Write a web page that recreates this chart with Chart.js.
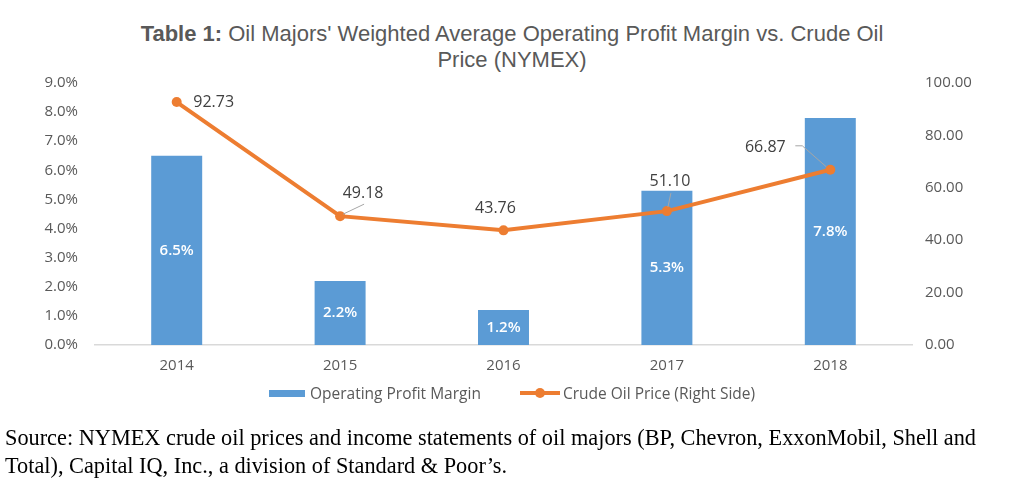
<!DOCTYPE html>
<html>
<head>
<meta charset="utf-8">
<script src="https://cdn.jsdelivr.net/npm/chart.js@4.4.1/dist/chart.umd.min.js"></script>
<style>
body { margin: 0; width: 1024px; height: 480px; position: relative; background: #fff; overflow: hidden; }
#chart { position: absolute; left: 0; top: 0; }
#title { position: absolute; top: 21px; left: 0; width: 1024px; text-align: center;
  font: 22px "Liberation Sans", Arial, sans-serif; color: #595959; line-height: 26px; }
#legend { position: absolute; top: 383px; left: 0; width: 1024px; display: flex; justify-content: center;
  font: 15.5px "Open Sans", sans-serif; color: #595959; line-height: 20px; }
#legend .item { display: flex; align-items: center; }
#legend .bar { width: 36px; height: 7px; background: #5B9BD5; margin-right: 5px; }
#legend .line { width: 40px; height: 4px; background: #ED7D31; margin: 0 3px 0 39px; position: relative; }
#legend .line:after { content: ""; position: absolute; left: 15px; top: -3px; width: 10px; height: 10px; border-radius: 5px; background: #ED7D31; }
#source { position: absolute; left: 5px; top: 424px; font: 22.3px "Liberation Serif", "Times New Roman", serif; color: #000; line-height: 28px; }
</style>
</head>
<body>
<div id="title"><b>Table 1:</b> Oil Majors' Weighted Average Operating Profit Margin vs. Crude Oil<br>Price (NYMEX)</div>
<canvas id="chart" width="1024" height="480"></canvas>
<div id="legend">
  <div class="item"><span class="bar"></span>Operating Profit Margin</div>
  <div class="item"><span class="line"></span>Crude Oil Price (Right Side)</div>
</div>
<div id="source">Source: NYMEX crude oil prices and income statements of oil majors (BP, Chevron, ExxonMobil, Shell and<br>Total), Capital IQ, Inc., a division of Standard &amp; Poor’s.</div>

<script>
const years = ['2014', '2015', '2016', '2017', '2018'];
const profitMargin = [0.065, 0.022, 0.012, 0.053, 0.078];
const oilPrice = [92.73, 49.18, 43.76, 51.10, 66.87];

// where each price label sits, relative to its point
const priceLabelOffsets = [[37, 0], [23, -23], [-8, -22], [3, -30], [-65, -22]];
// grey leader lines (relative to point), null = none
const priceLeaders = [
	null,
	[[24, -12], [3, -2]],
	null,
	[[4, -18], [1, -4]],
	[[-35, -24], [-28, -24], [-4, -3]]
];

const tickFont = { family: 'Open Sans', size: 15 };
const grey = '#595959';

// data labels, drawn after the datasets
const labelPlugin = {
	id: 'labels',
	afterDatasetsDraw(chart) {
		const ctx = chart.ctx;
		ctx.save();
		ctx.textAlign = 'center';
		ctx.textBaseline = 'middle';

		// bar values, white in the middle of the bar
		ctx.font = '600 15px "Open Sans"';
		ctx.fillStyle = '#ffffff';
		chart.getDatasetMeta(0).data.forEach((bar, i) => {
			const mid = (bar.y + bar.base) / 2;
			ctx.fillText((profitMargin[i] * 100).toFixed(1) + '%', bar.x, mid);
		});

		// price values
		chart.getDatasetMeta(1).data.forEach((pt, i) => {
			const lead = priceLeaders[i];
			if (lead) {
				ctx.strokeStyle = '#a6a6a6';
				ctx.lineWidth = 1;
				ctx.beginPath();
				lead.forEach((p, j) => {
					if (j === 0) ctx.moveTo(pt.x + p[0], pt.y + p[1]);
					else ctx.lineTo(pt.x + p[0], pt.y + p[1]);
				});
				ctx.stroke();
			}
			ctx.font = '16px "Open Sans"';
			ctx.fillStyle = '#404040';
			const off = priceLabelOffsets[i];
			ctx.fillText(oilPrice[i].toFixed(2), pt.x + off[0], pt.y + off[1]);
		});
		ctx.restore();
	}
};

const ctx = document.getElementById('chart').getContext('2d');
const myChart = new Chart(ctx, {
	data: {
		labels: years,
		datasets: [{
			type: 'bar',
			label: 'Operating Profit Margin',
			data: profitMargin,
			backgroundColor: '#5B9BD5',
			yAxisID: 'y',
			categoryPercentage: 1,
			barPercentage: 0.312,
			order: 2
		}, {
			type: 'line',
			label: 'Crude Oil Price (Right Side)',
			data: oilPrice,
			borderColor: '#ED7D31',
			backgroundColor: '#ED7D31',
			borderWidth: 4,
			pointRadius: 5,
			pointBackgroundColor: '#ED7D31',
			pointBorderWidth: 0,
			tension: 0,
			yAxisID: 'y1',
			order: 1
		}]
	},
	options: {
		responsive: false,
		animation: false,
		layout: {
			padding: { top: 83, bottom: 93, left: 0, right: 0 }
		},
		plugins: {
			legend: { display: false },
			tooltip: { enabled: false },
			title: { display: false }
		},
		scales: {
			x: {
				grid: { display: false, drawTicks: false },
				border: { color: '#d9d9d9', width: 1.5 },
				ticks: { font: tickFont, color: grey, padding: 12 }
			},
			y: {
				position: 'left',
				min: 0,
				max: 0.09,
				grid: { display: false, drawTicks: false },
				border: { display: false },
				ticks: {
					stepSize: 0.01,
					font: tickFont,
					color: grey,
					padding: 17,
					callback: v => (v * 100).toFixed(1) + '%'
				},
				afterFit: scale => { scale.width = 95; }
			},
			y1: {
				position: 'right',
				min: 0,
				max: 100,
				grid: { display: false, drawTicks: false },
				border: { display: false },
				ticks: {
					stepSize: 20,
					font: tickFont,
					color: grey,
					padding: 13,
					callback: v => v.toFixed(2)
				},
				afterFit: scale => { scale.width = 112; }
			}
		}
	},
	plugins: [labelPlugin]
});
</script>
</body>
</html>
